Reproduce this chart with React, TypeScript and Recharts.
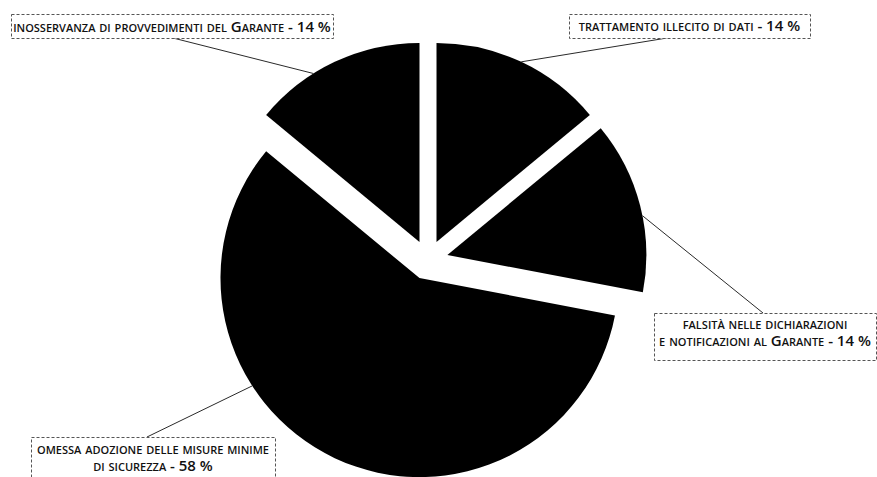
import React from "react";
import { PieChart, Pie, Cell } from "recharts";

// ---- data ----
const categories = [
  "trattamento illecito di dati",
  "falsità nelle dichiarazioni e notificazioni al Garante",
  "omessa adozione delle misure minime di sicurezza",
  "inosservanza di provvedimenti del Garante",
];
const values = [14, 14, 58, 14];
// label text split into lines (the value is appended to the last line)
const labelLines = [
  ["trattamento illecito di dati"],
  ["falsità nelle dichiarazioni", "e notificazioni al Garante"],
  ["omessa adozione delle misure minime", "di sicurezza"],
  ["inosservanza di provvedimenti del Garante"],
];

// ---- layout ----
const W = 877;
const H = 477;
const CX = 428;
const CY = 260;
const R = 199;
const EXPLODE = 20;
const FONT = "'Open Sans', 'Noto Sans', sans-serif";

type Box = {
  x: number;
  y: number;
  w: number;
  h: number;
  ax: number;
  ay: number;
  shift: number;
  baselines: number[];
};
const boxes: Box[] = [
  { x: 569, y: 14, w: 241, h: 24, ax: 667, ay: 38, shift: 0, baselines: [31] },
  { x: 654, y: 313, w: 222, h: 47, ax: 763, ay: 313, shift: -3, baselines: [329, 346] },
  { x: 31, y: 437, w: 244, h: 46, ax: 147, ay: 437, shift: -32, baselines: [454, 471] },
  { x: 11, y: 14, w: 322, h: 24, ax: 173, ay: 38, shift: 7, baselines: [32] },
];

const data = categories.map((name, i) => ({ name, value: values[i] }));
const total = values.reduce((a, b) => a + b, 0);
const midAngles: number[] = (() => {
  let acc = 0;
  return values.map((v) => {
    const span = (v / total) * 360;
    const mid = acc + span / 2;
    acc += span;
    return mid; // clockwise from 12 o'clock
  });
})();

const RAD = Math.PI / 180;

function makeLabel(target: number) {
  return (props: any) => {
    const { cx, cy, outerRadius, midAngle, index } = props;
    if (index !== target) return <g key={`e-${index}`} />;
    const b = boxes[target];
    const ang = (midAngle + b.shift) * RAD;
    const px = cx + outerRadius * Math.cos(-ang);
    const py = cy + outerRadius * Math.sin(-ang);
    const lines = labelLines[target];
    return (
      <g key={`l-${index}`}>
        <line x1={px} y1={py} x2={b.ax} y2={b.ay} stroke="#2a2a2a" strokeWidth={1} />
        <rect
          x={b.x + 0.5}
          y={b.y + 0.5}
          width={b.w}
          height={b.h}
          fill="#fff"
          stroke="#555"
          strokeWidth={1}
          strokeDasharray="3 2"
        />
        {lines.map((t, k) => (
          <text
            key={k}
            x={b.x + b.w / 2}
            y={b.baselines[k]}
            textAnchor="middle"
            fill="#111"
            style={{
              fontFamily: FONT,
              fontSize: 15,
              fontWeight: 600,
              fontVariant: "small-caps",
            }}
          >
            {k === lines.length - 1 ? `${t} - ${values[target]} %` : t}
          </text>
        ))}
      </g>
    );
  };
}

export default function App() {
  return (
    <div style={{ position: "absolute", left: 0, top: 0, width: W, height: H, background: "#fff" }}>
      <PieChart width={W} height={H} margin={{ top: 0, right: 0, bottom: 0, left: 0 }}>
        {data.map((_, target) => (
          <Pie
            key={target}
            data={data}
            dataKey="value"
            nameKey="name"
            cx={CX + EXPLODE * Math.sin(midAngles[target] * RAD)}
            cy={CY - EXPLODE * Math.cos(midAngles[target] * RAD)}
            innerRadius={0}
            outerRadius={R}
            startAngle={90}
            endAngle={-270}
            stroke="none"
            isAnimationActive={false}
            labelLine={false}
            label={makeLabel(target)}
          >
            {data.map((__, i) => (
              <Cell key={i} fill={i === target ? "#000" : "none"} stroke="none" />
            ))}
          </Pie>
        ))}
      </PieChart>
    </div>
  );
}
